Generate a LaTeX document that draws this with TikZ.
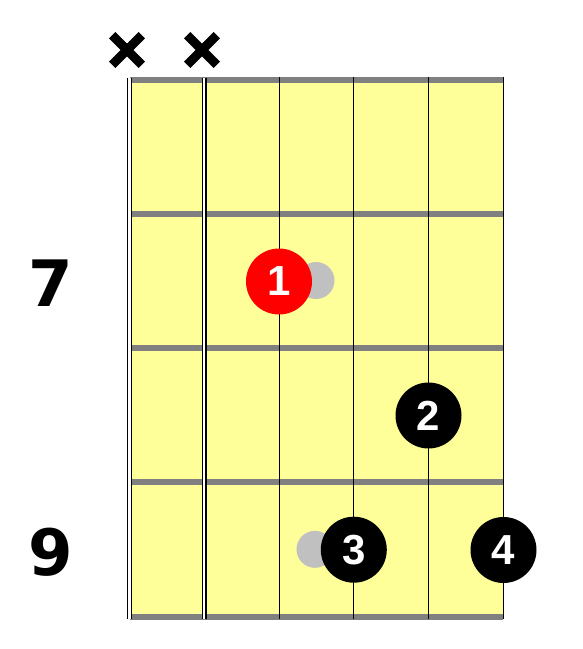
\documentclass[tikz,border=0pt]{standalone}
\usepackage{fontspec}
\setmainfont{Liberation Sans}
\newfontfamily\numfont{DejaVu Sans}
\definecolor{fretyellow}{HTML}{FFFF99}
\definecolor{fretgray}{HTML}{808080}
\definecolor{ghostgray}{HTML}{C0C0C0}
\begin{document}
\begin{tikzpicture}[x=1pt,y=-1pt,
  fretbar/.style={draw=fretgray, line width=6pt},
  strline/.style={draw=black, line width=1pt},
  mutedline/.style={draw=black, line width=1.1pt, double=white, double distance=2.2pt},
  finger/.style={circle, minimum size=66pt, inner sep=0pt, text=white, font=\fontsize{42}{42}\selectfont\bfseries},
  ghost/.style={circle, fill=ghostgray, minimum size=37pt, inner sep=0pt},
  fretnum/.style={inner sep=0pt, font=\numfont\fontsize{64}{64}\selectfont\bfseries},
  mutex/.style={draw=black, line width=9pt}
]
\useasboundingbox (0,0) rectangle (582,649);
% board
\fill[fretyellow] (129.5,79.7) rectangle (503.3,616.7);
\foreach \y in {79.7,213.9,348.1,482.3,616.5}
  \draw[fretbar] (129.5,\y) -- (503.3,\y);
% strings
\foreach \x in {129.5,204.3}
  \draw[mutedline] (\x,77.6) -- (\x,618.6);
\foreach \x in {279,353.8,428.5,503.3}
  \draw[strline] (\x,77) -- (\x,619.3);
% mute marks
\foreach \cx in {127,202}{
  \draw[mutex] (\cx-14.8,50-14.8) -- (\cx+14.8,50+14.8);
  \draw[mutex] (\cx-14.8,50+14.8) -- (\cx+14.8,50-14.8);
}
% fret numbers
\node[fretnum] (f7) at (51,283) {7};
\node[fretnum] (f9) at (51,552) {9};
% ghost notes
\node[ghost] (g1) at (316,280.5) {};
\node[ghost] (g3) at (315,549.3) {};
% fingers
\node[finger, fill=red] (d1) at (279,281.5) {1};
\node[finger, fill=black] (d2) at (428.5,415.5) {2};
\node[finger, fill=black] (d3) at (353.8,549.7) {3};
\node[finger, fill=black] (d4) at (503.5,550) {4};
\end{tikzpicture}
\end{document}
